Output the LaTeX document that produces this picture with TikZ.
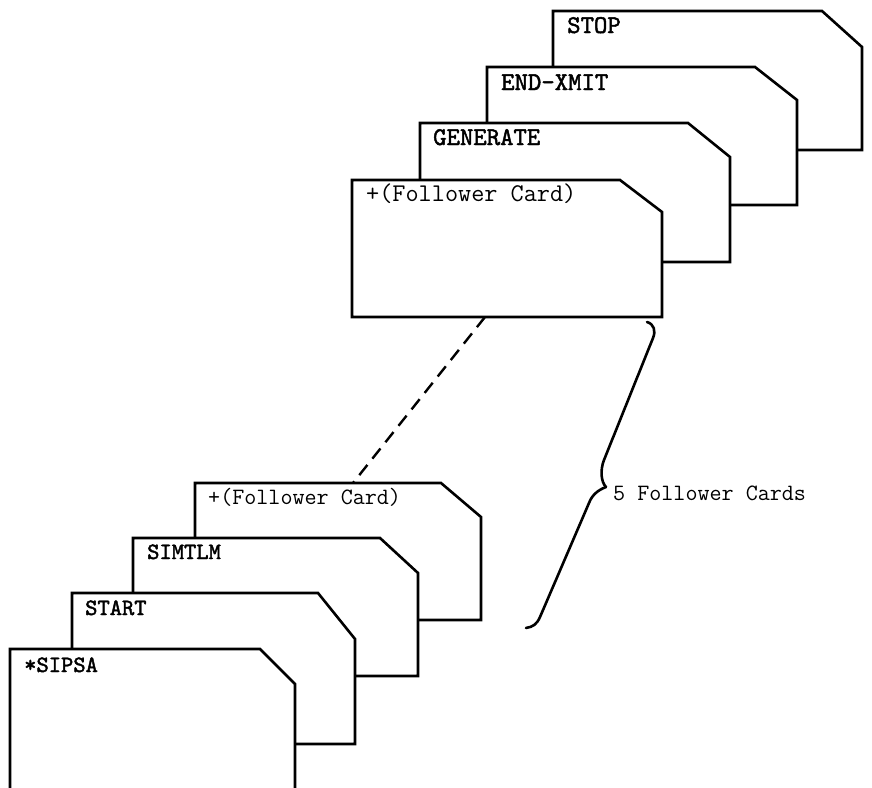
\documentclass[tikz,border=0pt]{standalone}
\usepackage{tikz}
\usepackage{fontspec}
\newfontfamily\captt[AutoFakeBold=1.8]{lmmono10-regular.otf}

\tikzset{
  card/.style={draw=black,line width=2.6pt,fill=white,line join=miter},
  toplbl/.style={anchor=base west,inner sep=0pt,font=\fontsize{25.5}{27}\selectfont\ttfamily},
  botlbl/.style={anchor=base west,inner sep=0pt,font=\fontsize{23.4}{25}\selectfont\ttfamily},
  topcap/.style={toplbl,font=\fontsize{25.5}{27}\selectfont\captt\bfseries},
  botcap/.style={botlbl,font=\fontsize{23.4}{25}\selectfont\captt\bfseries},
}

\begin{document}
\begin{tikzpicture}[x=1pt,y=1pt,yscale=-1]
			\clip (0,0) rectangle (872,787);
			% upper deck, back to front
			\draw[card] (553,150) -- (553,11) -- (822,11) -- (862,47) -- (862,150) -- cycle;
			\draw[card] (487,205) -- (487,67) -- (755,67) -- (797,100) -- (797,205) -- cycle;
			\draw[card] (420,262) -- (420,123) -- (688,123) -- (730,157) -- (730,262) -- cycle;
			\draw[card] (352,317) -- (352,180) -- (620,180) -- (662,212) -- (662,317) -- cycle;
			% lower deck, back to front
			\draw[card] (195,620) -- (195,483) -- (441,483) -- (481,517) -- (481,620) -- cycle;
			\draw[card] (133,676) -- (133,538) -- (380,538) -- (418,573) -- (418,676) -- cycle;
			\draw[card] (72,744) -- (72,593) -- (318,593) -- (355,639) -- (355,744) -- cycle;
			\draw[card] (10,800) -- (10,649) -- (260,649) -- (295,684) -- (295,800) -- cycle;
			
			\node (stop) [topcap] at (567,33) {STOP};
			\node (endxmit) [topcap] at (501,90) {END-XMIT};
			\node (generate) [topcap] at (433,145) {GENERATE};
			\node (folup) [toplbl] at (366,201) {+(Follower Card)};
			\node (follow) [botlbl] at (208,504) {+(Follower Card)};
			\node (simtlm) [botcap] at (147,559) {SIMTLM};
			\node (start) [botcap] at (85,615) {START};
			\node (sipsa) [botcap] at (24,672) {*SIPSA};
			
			\coordinate (upbot) at (485,317);
			\coordinate (lowtop) at (353,483);
			\draw[line width=2.4pt,dash pattern=on 13pt off 8pt] (upbot) -- (lowtop);
			
			% brace over the follower cards
			\coordinate (tip) at (606,487);
			\draw[line width=2.6pt,line cap=round] (647,322) .. controls (654,324) and (656,331) .. (653,338) -- (604,460) .. controls (600,470) and (601,482) .. (tip);
			\draw[line width=2.6pt,line cap=round] (tip) .. controls (598,490) and (592,495) .. (589,503) -- (540,617) .. controls (537,624) and (533,627) .. (526,628);
			\node (count) [botlbl,anchor=west] at (613,493) {5 Follower Cards};
			\end{tikzpicture}
\end{document}
